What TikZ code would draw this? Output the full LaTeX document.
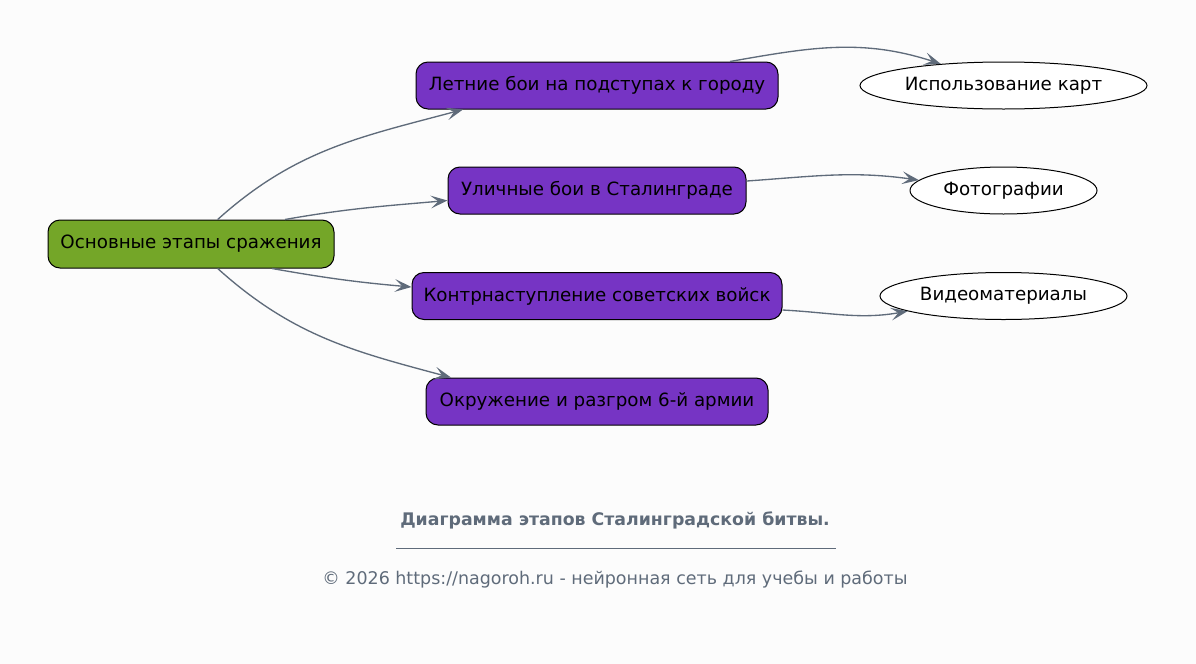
\documentclass[tikz,border=0pt]{standalone}
\usepackage{fontspec}
\setmainfont{DejaVu Sans}
\usetikzlibrary{arrows.meta,shapes.geometric}
\definecolor{stagegreen}{RGB}{116,166,40}
\definecolor{stagepurple}{RGB}{118,52,196}
\definecolor{edgegray}{RGB}{95,107,122}
\definecolor{bggray}{RGB}{252,252,252}
\tikzset{
  rootbox/.style={draw=black, line width=0.75pt, fill=stagegreen, rounded corners=9pt,
    inner sep=0pt, minimum height=36pt, font=\fontsize{13.7pt}{16pt}\selectfont},
  stagebox/.style={draw=black, line width=0.75pt, fill=stagepurple, rounded corners=9pt,
    inner sep=0pt, minimum height=35.25pt, font=\fontsize{13.7pt}{16pt}\selectfont},
  sourceell/.style={draw=black, line width=0.75pt, fill=white, ellipse,
    inner sep=0pt, minimum height=35.25pt, font=\fontsize{13.7pt}{16pt}\selectfont},
  link/.style={draw=edgegray, line width=1pt,
    -{Stealth[length=12.5pt,width=9.5pt,inset=5.5pt]}},
}
\begin{document}
\begin{tikzpicture}[x=0.75pt,y=-0.75pt]
		\fill[bggray] (0,0) rectangle (1196,664);
		\useasboundingbox (0,0) rectangle (1196,664);
		% stages
		\node[rootbox, minimum width=214.5pt] (root) at (191,244) {Основные этапы сражения};
		\node[stagebox, minimum width=271.5pt] (summer) at (597,85.5) {Летние бои на подступах к городу};
		\node[stagebox, minimum width=223.5pt] (street) at (597,190.5) {Уличные бои в Сталинграде};
		\node[stagebox, minimum width=277.5pt] (counter) at (597,296) {Контрнаступление советских войск};
		\node[stagebox, minimum width=256.5pt] (encircle) at (597,401.5) {Окружение и разгром 6-й армии};
		% sources
		\node[sourceell, minimum width=215.25pt] (maps) at (1003.5,85.5) {Использование карт};
		\node[sourceell, minimum width=140.25pt] (photos) at (1003.5,190.5) {Фотографии};
		\node[sourceell, minimum width=185.25pt] (videos) at (1003.5,296) {Видеоматериалы};
		% links
		\draw[link] ([xshift=20pt]root.north) to[out=42,in=195] ([xshift=-100.5pt]summer.south);
		\draw[link] ([xshift=70.5pt]root.north) to[out=10,in=185] ([yshift=-7.5pt]street.west);
		\draw[link] ([xshift=60.75pt]root.south) to[out=-10,in=175] ([yshift=6.75pt]counter.west);
		\draw[link] ([xshift=20pt]root.south) to[out=-42,in=165] ([xshift=-109.5pt]encircle.north);
		\draw[link] ([xshift=99.75pt]summer.north) to[out=10,in=162] (maps.161);
		\draw[link] ([yshift=7.1pt]street.east) to[out=4,in=172] (photos.173);
		\draw[link] ([yshift=-10.5pt]counter.east) to[out=-3,in=190] (videos.189);
		% caption
		\node[text=edgegray, font=\bfseries\fontsize{13pt}{15pt}\selectfont] (title) at (615,520) {Диаграмма этапов Сталинградской битвы.};
		\draw[edgegray, line width=0.6pt] (396,548) -- (836,548);
		\node[text=edgegray, font=\fontsize{13.1pt}{15pt}\selectfont] (footer) at (615,580) {© 2026 https://nagoroh.ru - нейронная сеть для учебы и работы};
\end{tikzpicture}
\end{document}
